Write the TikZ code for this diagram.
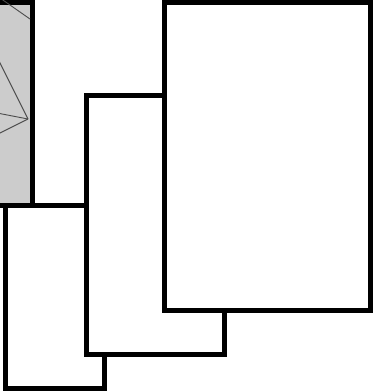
\documentclass[tikz,border=0pt]{standalone}
\begin{document}
\begin{tikzpicture}[x=1pt,y=-1pt,
  card/.style={draw=black,line width=5pt,fill=white,line join=miter},
  graycard/.style={draw=black,line width=5pt,fill=black!20},
  thin/.style={draw=black!70,line width=0.9pt}]
\useasboundingbox (0,0) rectangle (376,391);
\begin{scope}
\clip (0,0) rectangle (376,391);
\draw[graycard] (-20,2.5) rectangle (32,205.5);
\draw[thin] (-5,-5.5) -- (30,19);
\draw[thin] (-3,57) -- (28,119);
\draw[thin] (-3,113) -- (28,119);
\draw[thin] (-3,134.5) -- (28,119);
\draw[card] (5,205.5) rectangle (104.5,388);
\draw[card] (86,95.5) rectangle (224.5,354);
\draw[card] (164.5,2.5) rectangle (370.5,310.5);
\end{scope}
\end{tikzpicture}
\end{document}
